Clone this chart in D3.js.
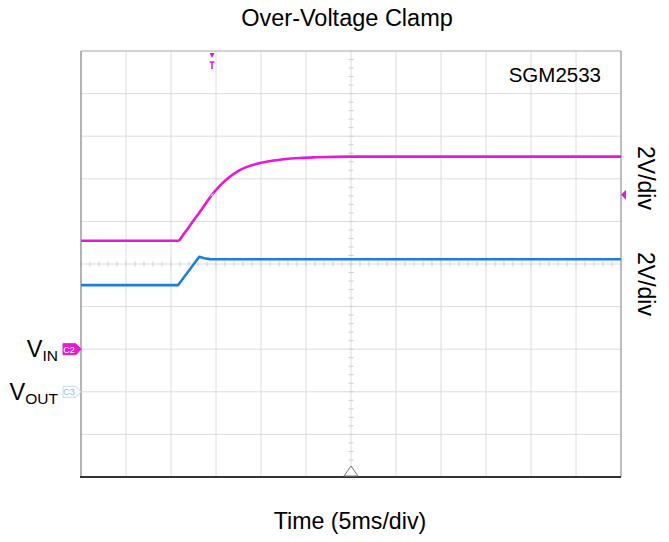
<!DOCTYPE html>
<html>
<head>
<meta charset="utf-8">
<script src="https://cdn.jsdelivr.net/npm/d3@7"></script>
<style>
  body { margin: 0; background: #fff; }
  svg text { font-family: Arial, "Liberation Sans", sans-serif; }
</style>
</head>
<body>
<div id="chart"></div>
<script>
// time in ms (5 ms/div, 12 div), voltage in V (2 V/div)
const vinTime = [0, 10.8, 11.4, 12.4, 13.5, 14.5, 15.5, 16.5, 17.5, 18.5, 19.9, 21.4, 22.5, 24.3, 26.2, 29.9, 45, 60];
const vinVolt = [5.09, 5.09, 5.40, 5.98, 6.62, 7.22, 7.70, 8.08, 8.37, 8.57, 8.74, 8.86, 8.92, 8.98, 9.01, 9.04, 9.04, 9.04];
const voutTime = [0, 10.8, 13.14, 13.7, 14.33, 20, 40, 60];
const voutVolt = [5.01, 5.01, 6.34, 6.27, 6.23, 6.22, 6.22, 6.22];
const channels = [
  { name: "C2", label: "V", sub: "IN", offsetDiv: -2, voltsPerDiv: 2, color: "#e619d9" },
  { name: "C3", label: "V", sub: "OUT", offsetDiv: -3, voltsPerDiv: 2, color: "#1e7fd8" },
];
const triggerTime = 14.56;
const triggerLevel = 7.25;
const timeDivs = 12;
const voltDivs = 10;

const W = 669, H = 542;
const plot = { left: 81, right: 621, top: 51, bottom: 477 };

const svg = d3.select("#chart").append("svg")
  .attr("width", W).attr("height", H)
  .attr("viewBox", `0 0 ${W} ${H}`);

const x = d3.scaleLinear().domain([0, 60]).range([plot.left, plot.right]);
const yDiv = d3.scaleLinear().domain([-voltDivs / 2, voltDivs / 2]).range([plot.bottom, plot.top]);
const yOf = (ch) => (v) => yDiv(ch.offsetDiv + v / ch.voltsPerDiv);

// grid
const grid = svg.append("g");
const tStep = 60 / timeDivs;
grid.selectAll("line.v")
  .data(d3.range(1, timeDivs))
  .join("line")
  .attr("x1", (i) => x(i * tStep)).attr("x2", (i) => x(i * tStep))
  .attr("y1", plot.top).attr("y2", plot.bottom)
  .attr("stroke", "#dcdcdc").attr("stroke-width", 1);
grid.selectAll("line.h")
  .data(d3.range(-voltDivs / 2 + 1, voltDivs / 2))
  .join("line")
  .attr("x1", plot.left).attr("x2", plot.right)
  .attr("y1", (d) => yDiv(d)).attr("y2", (d) => yDiv(d))
  .attr("stroke", "#dcdcdc").attr("stroke-width", 1);

// minor ticks on center lines
const cx = x(30), cy = yDiv(0);
grid.selectAll("line.tx")
  .data(d3.range(0, 60.01, tStep / 5))
  .join("line")
  .attr("x1", (d) => x(d)).attr("x2", (d) => x(d))
  .attr("y1", cy - 2.5).attr("y2", cy + 2.5)
  .attr("stroke", "#cfcfcf");
grid.selectAll("line.ty")
  .data(d3.range(-voltDivs / 2, voltDivs / 2 + 0.01, 0.2))
  .join("line")
  .attr("x1", cx - 2.5).attr("x2", cx + 2.5)
  .attr("y1", (d) => yDiv(d)).attr("y2", (d) => yDiv(d))
  .attr("stroke", "#cfcfcf");

// frame
svg.append("line").attr("x1", plot.left).attr("x2", plot.right).attr("y1", plot.top).attr("y2", plot.top)
  .attr("stroke", "#c4c4c4").attr("stroke-width", 1.5);
svg.append("line").attr("x1", plot.right).attr("x2", plot.right).attr("y1", plot.top).attr("y2", plot.bottom)
  .attr("stroke", "#a8a8a8").attr("stroke-width", 1.5);
svg.append("line").attr("x1", plot.left).attr("x2", plot.left).attr("y1", plot.top).attr("y2", plot.bottom)
  .attr("stroke", "#9a9a9a").attr("stroke-width", 1.5);
svg.append("line").attr("x1", plot.left - 1).attr("x2", plot.right).attr("y1", plot.bottom).attr("y2", plot.bottom)
  .attr("stroke", "#333").attr("stroke-width", 1.8);

// traces
const series = [
  { ch: channels[0], t: vinTime, v: vinVolt, curve: d3.curveMonotoneX },
  { ch: channels[1], t: voutTime, v: voutVolt, curve: d3.curveLinear },
];
series.forEach((s) => {
  const yy = yOf(s.ch);
  const line = d3.line()
    .x((d) => x(d[0]))
    .y((d) => yy(d[1]))
    .curve(s.curve);
  svg.append("path")
    .datum(d3.zip(s.t, s.v))
    .attr("d", line)
    .attr("fill", "none")
    .attr("stroke", s.ch.color)
    .attr("stroke-width", 2.6)
    .attr("stroke-linejoin", "round");
});

// trigger markers
const magenta = channels[0].color;
const tx = x(triggerTime), ty = yOf(channels[0])(triggerLevel);
svg.append("path")
  .attr("d", `M${tx - 2.5},${plot.top + 2} L${tx + 2.5},${plot.top + 2} L${tx},${plot.top + 7} Z`)
  .attr("fill", magenta);
svg.append("path")
  .attr("d", `M${tx - 2.5},${plot.top + 11} L${tx + 2.5},${plot.top + 11} M${tx},${plot.top + 11} L${tx},${plot.top + 18}`)
  .attr("stroke", magenta).attr("stroke-width", 1.5).attr("fill", "none");
svg.append("path")
  .attr("d", `M${plot.right + 5},${ty - 5} L${plot.right + 5},${ty + 5} L${plot.right},${ty} Z`)
  .attr("fill", magenta);
svg.append("path")
  .attr("d", `M${tx - 2},${ty - 2} L${tx + 2},${ty + 2} M${tx - 2},${ty + 2} L${tx + 2},${ty - 2}`)
  .attr("stroke", "#f4a8ee").attr("stroke-width", 1);

// horizontal position marker
svg.append("path")
  .attr("d", `M${cx - 7},${plot.bottom - 1} L${cx + 7},${plot.bottom - 1} L${cx},${plot.bottom - 11} Z`)
  .attr("fill", "#fff").attr("stroke", "#777").attr("stroke-width", 1);

// channel ground markers and labels
channels.forEach((ch, i) => {
  const gy = yDiv(ch.offsetDiv);
  const filled = i === 0;
  svg.append("path")
    .attr("d", `M63,${gy - 5.5} L76,${gy - 5.5} L81,${gy} L76,${gy + 5.5} L63,${gy + 5.5} Z`)
    .attr("fill", filled ? ch.color : "#fff")
    .attr("stroke", filled ? ch.color : "#bcdcf5")
    .attr("stroke-width", 1);
  svg.append("text")
    .attr("x", 69).attr("y", gy + 3.5)
    .attr("text-anchor", "middle")
    .attr("font-size", 9)
    .attr("fill", filled ? "#fff" : "#8cc0ea")
    .text(ch.name);
  const lbl = svg.append("text")
    .attr("x", 58).attr("y", gy + 8)
    .attr("text-anchor", "end")
    .attr("fill", "#000");
  lbl.append("tspan").attr("font-size", 23.5).text(ch.label);
  lbl.append("tspan").attr("font-size", 15.5).attr("dy", 4).text(ch.sub);
});

// texts
svg.append("text")
  .attr("x", 347).attr("y", 26)
  .attr("text-anchor", "middle").attr("font-size", 23.5)
  .text("Over-Voltage Clamp");
svg.append("text")
  .attr("x", 350).attr("y", 529)
  .attr("text-anchor", "middle").attr("font-size", 23.2)
  .text("Time (5ms/div)");
svg.append("text")
  .attr("x", 601).attr("y", 82)
  .attr("text-anchor", "end").attr("font-size", 20.5)
  .text("SGM2533");
[178, 284].forEach((cyText) => {
  svg.append("text")
    .attr("transform", `translate(638,${cyText}) rotate(90)`)
    .attr("text-anchor", "middle").attr("font-size", 23)
    .text("2V/div");
});
</script>
</body>
</html>
